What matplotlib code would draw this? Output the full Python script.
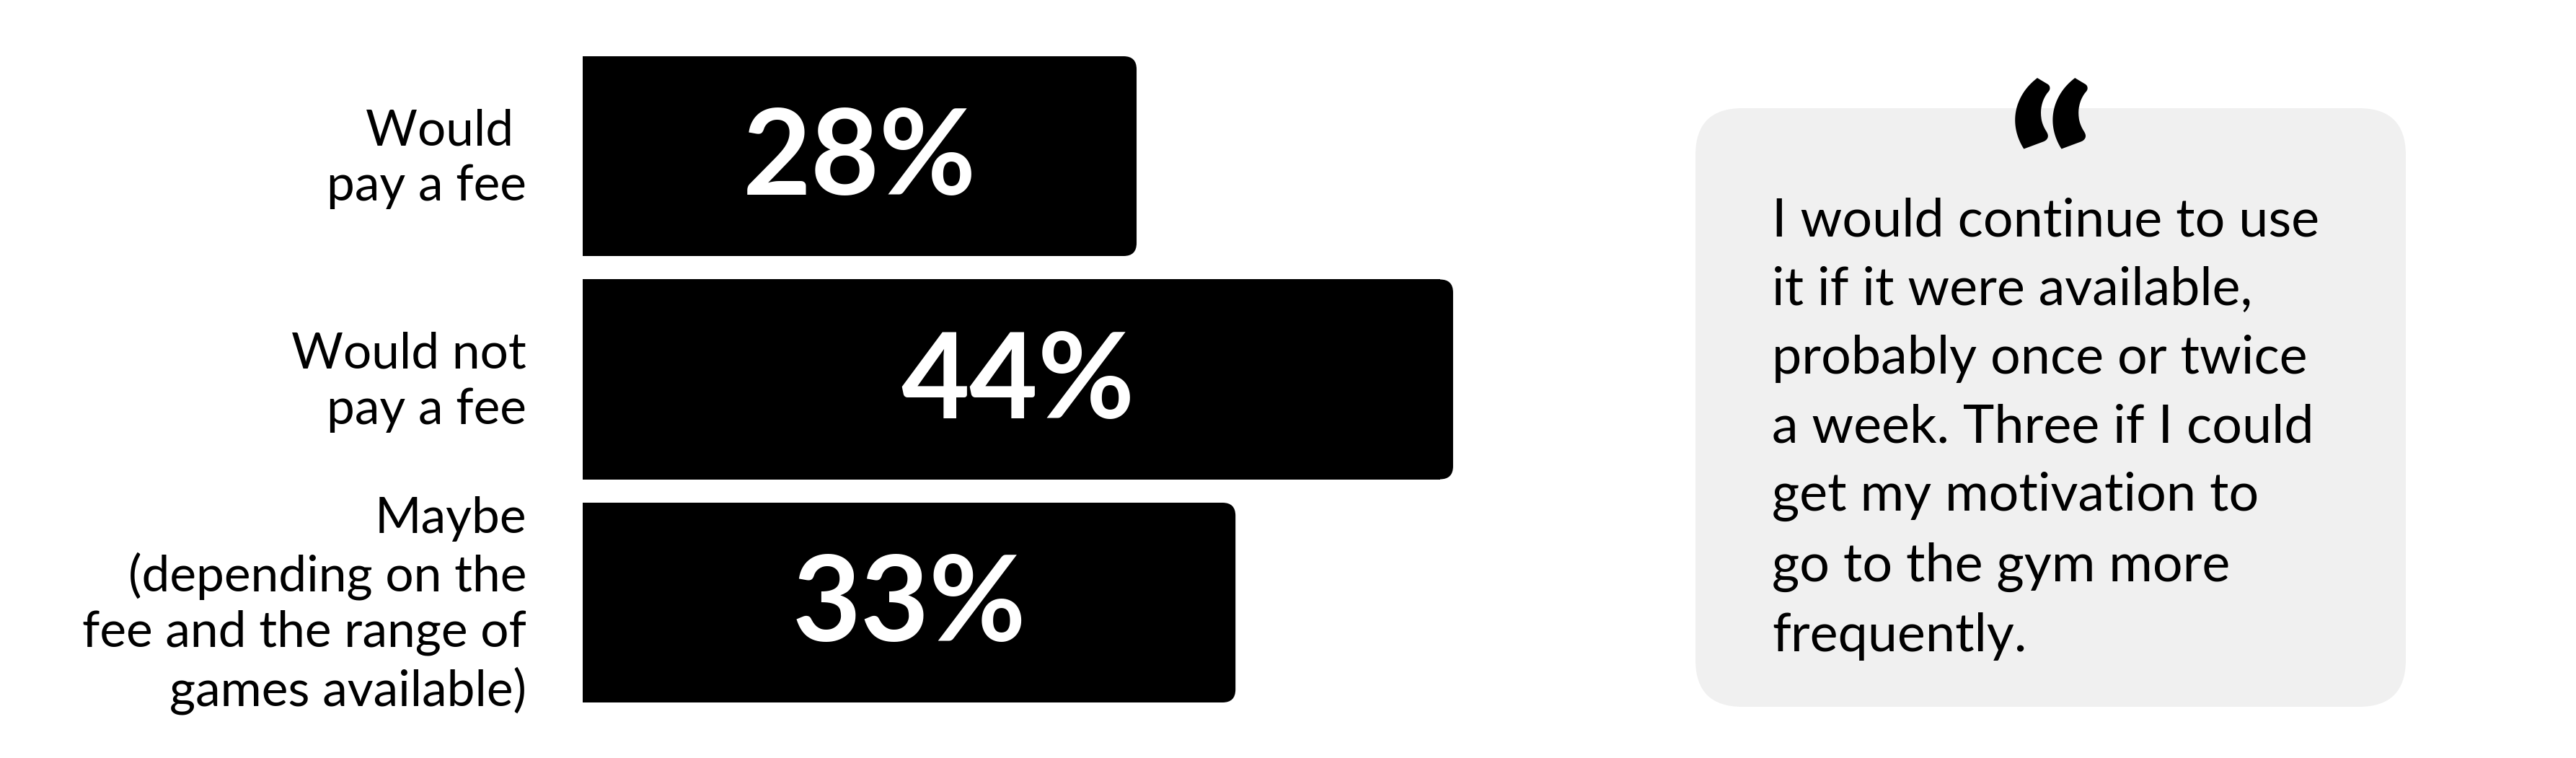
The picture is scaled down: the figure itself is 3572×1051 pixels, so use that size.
import matplotlib
matplotlib.use("Agg")
import matplotlib.pyplot as plt
from matplotlib.patches import FancyBboxPatch

plt.rcParams['font.family'] = ['Lato', 'DejaVu Sans']

# data
labels = ["Would \npay a fee", "Would not\npay a fee",
          "Maybe\n(depending on the\nfee and the range of\ngames available)"]
values = [28, 44, 33]
quote = ("I would continue to use\nit if it were available,\n"
         "probably once or twice\na week. Three if I could\n"
         "get my motivation to\ngo to the gym more\nfrequently.")

W, H = 3572, 1051
fig = plt.figure(figsize=(W / 100, H / 100), dpi=100)
fig.patch.set_facecolor("white")

# bar axes: x in percent, y in category index
px_per_pct = 27.43
x0_px = 808
row_px = 309.5
first_px = 216.5
ax = fig.add_axes([0, 0, 1, 1])
ax.set_xlim(-x0_px / px_per_pct, (W - x0_px) / px_per_pct)
ax.set_ylim((H - first_px) / row_px, -first_px / row_px)
ax.axis("off")

bar_h = 0.895
r = 18 / px_per_pct
asp = (18 / row_px) / r
for i, (lab, v) in enumerate(zip(labels, values)):
    ax.barh(i, v - r, height=bar_h, color="black", left=0)
    ax.add_patch(FancyBboxPatch((0, i - bar_h / 2), v, bar_h,
                                boxstyle=f"round,pad=0,rounding_size={r}",
                                mutation_aspect=asp, fc="black", ec="none"))
    ax.text(v / 2, i + 0.173, f"{v}%", ha="center", va="baseline",
            color="white", fontsize=118, fontweight="bold")
    ax.text(-78 / px_per_pct, i + 0.012, lab, ha="right", va="center",
            multialignment="right", fontsize=50, linespacing=1.27,
            color="black")

# quote panel in pixel coordinates
ax2 = fig.add_axes([0, 0, 1, 1])
ax2.set_xlim(0, W)
ax2.set_ylim(H, 0)
ax2.axis("off")
ax2.patch.set_alpha(0)
ax2.add_patch(FancyBboxPatch((2351, 150), 985, 830,
                             boxstyle="round,pad=0,rounding_size=65",
                             fc="#f0f0f0", ec="none"))
ax2.text(2843, 122, "\u201c", ha="center", va="top", fontsize=210,
         fontweight="heavy", color="black")
ax2.text(2457, 274, quote, ha="left", va="top", fontsize=53,
         linespacing=1.52, color="black")

fig.savefig("out.png", dpi=100)
